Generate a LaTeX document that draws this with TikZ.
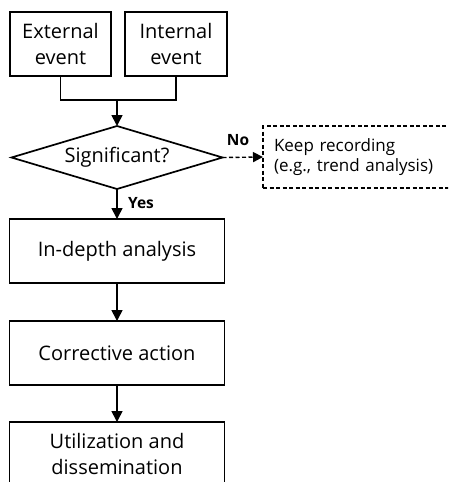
\documentclass[tikz,border=0pt]{standalone}
\usepackage{fontspec}
\setmainfont{Open Sans}
\usetikzlibrary{shapes.geometric,arrows.meta}
\tikzset{
  box/.style={draw, line width=1.7pt, rectangle, minimum width=215pt, minimum height=64pt, inner sep=0pt, outer sep=0pt, align=center, font=\fontsize{20}{26}\selectfont},
  evbox/.style={box, minimum width=101pt},
  decision/.style={draw, line width=1.7pt, diamond, aspect=3.35, minimum width=211pt, minimum height=63pt, inner sep=0pt, outer sep=0pt, font=\fontsize{20}{26}\selectfont},
  dbox/.style={draw, line width=1.4pt, dash pattern=on 4pt off 2.5pt, rectangle, minimum height=62pt, inner xsep=11pt, inner ysep=0pt, outer sep=0pt, text width=175pt, align=left, font=\fontsize{17}{19.5}\selectfont},
  conn/.style={line width=1.7pt},
  arr/.style={line width=1.7pt, -{Triangle[length=11pt,width=11pt]}},
  darr/.style={line width=1.4pt, dash pattern=on 4pt off 2.5pt, -{Triangle[length=10pt,width=10pt]}},
  lab/.style={font=\fontsize{15.5}{18}\bfseries\selectfont, inner sep=0pt}
}
\begin{document}
\begin{tikzpicture}[x=1pt,y=1pt]
\useasboundingbox (0,0) rectangle (448,-482);
\clip (0,0) rectangle (448,-482);
\node[evbox] (ext) at (60.5,-44) {External\\event};
\node[evbox, minimum width=102pt] (int) at (176,-44) {Internal\\event};
\coordinate (j) at (117,-100);
\node[decision] (sig) at (117,-157.5) {\raisebox{-3pt}{Significant?}};
\node[box] (ind) at (117,-251) {In-depth analysis};
\node[box] (cor) at (117,-353) {Corrective action};
\node[box] (uti) at (117,-454) {Utilization and\\dissemination};
\node[dbox, anchor=west] (keep) at (263,-157) {Keep recording\\(e.g., trend analysis)};
\draw[conn] (ext.south) |- (j) -| (int.south);
\draw[arr] (j) -- (sig.north);
\draw[arr] (sig.south) -- (ind.north);
\draw[arr] (ind.south) -- (cor.north);
\draw[arr] (cor.south) -- (uti.north);
\draw[darr] (sig.east) -- (keep.west);
\node[lab] (no) at (238,-140) {No};
\node[lab] (yes) at (141,-203) {Yes};
\end{tikzpicture}
\end{document}
